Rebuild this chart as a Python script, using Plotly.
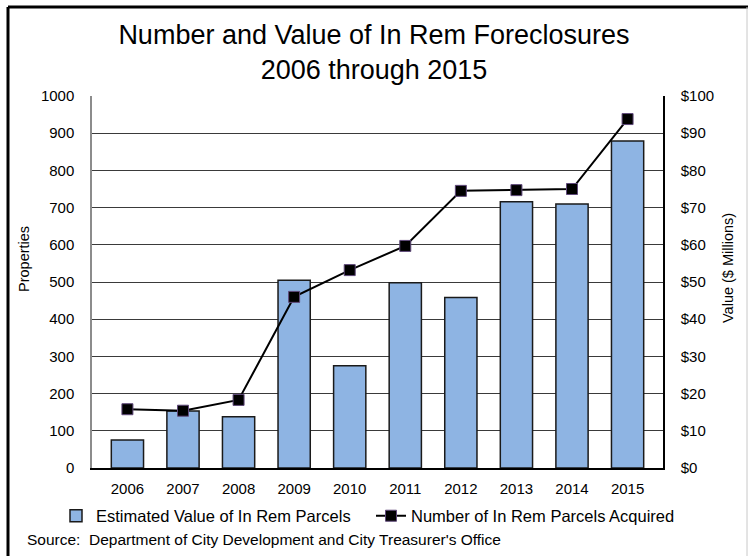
import plotly.graph_objects as go

years = ["2006", "2007", "2008", "2009", "2010", "2011", "2012", "2013", "2014", "2015"]
# Estimated value of parcels, $ millions
value_millions = [7.5, 15.3, 13.8, 50.5, 27.5, 49.8, 45.8, 71.6, 71.0, 87.9]
# Number of parcels acquired
parcels = [158, 154, 183, 460, 532, 597, 745, 747, 750, 938]

left_ticks = [0, 100, 200, 300, 400, 500, 600, 700, 800, 900, 1000]
right_ticks = [0, 10, 20, 30, 40, 50, 60, 70, 80, 90, 100]
right_labels = ["$" + str(v) for v in right_ticks]

W, H = 748, 556
ML, MR, MT, MB = 92, 85, 96, 88
PW, PH = W - ML - MR, H - MT - MB

def px(x):
    return (x - ML) / PW

def py(y):
    return (H - MB - y) / PH

font = "Liberation Sans, Arial, sans-serif"

fig = go.Figure()
# Bars on the value axis (right), drawn first
fig.add_trace(go.Bar(
    x=years, y=value_millions, yaxis="y",
    name="Estimated Value of In Rem Parcels",
    legend="legend",
    marker=dict(color="#8eb4e3", line=dict(color="#1a1a1a", width=1.5)),
))
# Parcel count on the properties axis (left), overlaid on top of the bars
fig.add_trace(go.Scatter(
    x=years, y=parcels, yaxis="y2",
    name="Number of In Rem Parcels Acquired",
    legend="legend2",
    mode="lines+markers",
    line=dict(color="black", width=2),
    marker=dict(symbol="square", size=11, color="black",
                line=dict(color="#604a7b", width=1)),
))

legend_common = dict(orientation="h", yanchor="middle", xanchor="left",
                     font=dict(size=16.5), itemwidth=30,
                     bgcolor="rgba(0,0,0,0)")

fig.update_layout(
    width=W, height=H,
    margin=dict(l=ML, r=MR, t=MT, b=MB),
    paper_bgcolor="white", plot_bgcolor="white",
    font=dict(family=font, size=15, color="black"),
    bargap=0.42,
    title=dict(text="Number and Value of In Rem Foreclosures<br>2006 through 2015",
               x=0.5, xanchor="center", y=1 - 44 / H, yanchor="middle",
               font=dict(size=27, family=font, color="black")),
    xaxis=dict(showgrid=False, showline=True, linecolor="black", linewidth=2,
               ticks="", tickfont=dict(size=15), ticklabelstandoff=6),
    yaxis=dict(range=[0, 100], tickvals=right_ticks, ticktext=right_labels,
               side="right", showgrid=True, gridcolor="#3a3a3a", gridwidth=1,
               showline=True, linecolor="black", linewidth=1.5, zeroline=False,
               tickfont=dict(size=15), ticks="", ticklabelstandoff=13),
    yaxis2=dict(range=[0, 1000], tickvals=left_ticks, overlaying="y", side="left",
                showgrid=False, showline=True, linecolor="#8c8c8c", linewidth=1.5,
                zeroline=False, tickfont=dict(size=15), ticks="",
                ticklabelstandoff=13),
    legend=dict(legend_common, x=px(56), y=py(516)),
    legend2=dict(legend_common, x=px(371), y=py(516)),
    showlegend=True,
)

fig.add_annotation(text="Properties", xref="paper", yref="paper",
                   x=px(24), y=py(259), xanchor="center", yanchor="middle",
                   textangle=-90, showarrow=False, font=dict(size=14.5, family=font))
fig.add_annotation(text="Value ($ Millions)", xref="paper", yref="paper",
                   x=px(728), y=py(268), xanchor="center", yanchor="middle",
                   textangle=-90, showarrow=False, font=dict(size=14.5, family=font))
fig.add_annotation(text="Source:  Department of City Development and City Treasurer's Office",
                   xref="paper", yref="paper", x=px(25), y=py(539),
                   xanchor="left", yanchor="middle", showarrow=False,
                   font=dict(size=15.5, family=font, color="black"))

# Outer frame
fig.add_shape(type="line", xref="paper", yref="paper",
              x0=px(8), x1=px(748), y0=py(7), y1=py(7),
              line=dict(color="black", width=3))
fig.add_shape(type="line", xref="paper", yref="paper",
              x0=px(8), x1=px(8), y0=py(7), y1=py(560),
              line=dict(color="black", width=3))
fig.add_shape(type="line", xref="paper", yref="paper",
              x0=px(747), x1=px(747), y0=py(7), y1=py(560),
              line=dict(color="#c8c8c8", width=1))

fig.write_html("out.html")
